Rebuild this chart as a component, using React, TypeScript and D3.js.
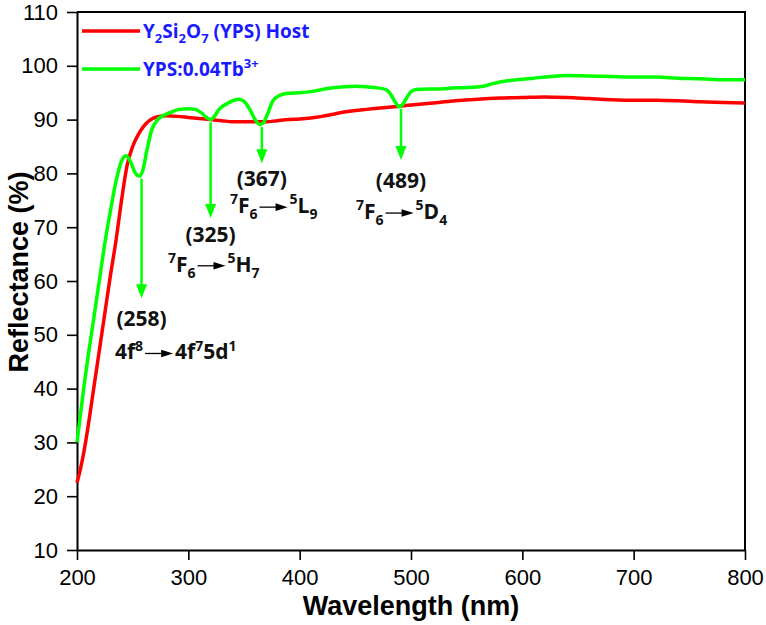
import React, { useEffect, useRef } from "react";
import * as d3 from "d3";

const W = 766;
const H = 625;
const margin = { left: 77, top: 12, right: 21, bottom: 75 };

// Y2Si2O7 (YPS) host
const hostWl = [200, 203, 206, 210, 215, 220, 225, 230, 235, 240, 245, 250, 255, 260, 265, 270, 280, 290, 300, 310, 320, 330, 340, 350, 360, 370, 380, 390, 400, 410, 420, 430, 440, 450, 460, 470, 480, 490, 500, 510, 520, 530, 540, 560, 580, 600, 620, 640, 660, 680, 700, 720, 740, 760, 780, 800];
const hostR = [22.5, 25, 28, 33, 40, 47, 54, 61, 67.5, 75, 81.5, 85, 87.2, 88.8, 89.8, 90.4, 90.7, 90.6, 90.4, 90.2, 90, 89.8, 89.6, 89.6, 89.6, 89.6, 89.8, 90, 90.1, 90.3, 90.6, 91.0, 91.4, 91.7, 91.9, 92.1, 92.3, 92.5, 92.7, 92.9, 93.1, 93.3, 93.5, 93.8, 94, 94.1, 94.2, 94.1, 93.9, 93.7, 93.6, 93.6, 93.5, 93.3, 93.2, 93.1];

// YPS:0.04Tb3+
const dopedWl = [200, 203, 206, 210, 215, 220, 225, 230, 235, 240, 244, 248, 252, 256, 259, 263, 267, 272, 278, 285, 292, 300, 306, 312, 317, 320, 323, 328, 335, 341, 346, 350, 355, 360, 364, 367, 371, 376, 382, 390, 400, 410, 420, 430, 440, 450, 460, 470, 477, 482, 486, 489, 492, 496, 500, 505, 515, 526, 540, 555, 565, 572, 580, 590, 600, 610, 625, 640, 660, 680, 700, 720, 740, 760, 780, 800];
const dopedR = [30, 35, 40, 46, 53, 60, 67, 73, 78.5, 82.3, 83.3, 82.2, 80.2, 79.5, 80.5, 84.5, 88, 89.9, 90.8, 91.4, 91.9, 92, 91.9, 91.2, 90.3, 90, 90.5, 92, 93, 93.6, 93.8, 93.4, 92, 90, 89.1, 89.3, 91, 93.5, 94.5, 94.9, 95, 95.2, 95.6, 95.9, 96.1, 96.2, 96.1, 95.9, 95.6, 94.6, 93.2, 92.4, 92.7, 94, 95.2, 95.6, 95.7, 95.7, 95.9, 96, 96.2, 96.6, 97, 97.3, 97.5, 97.7, 98, 98.2, 98.1, 98, 97.9, 97.9, 97.7, 97.6, 97.4, 97.4];

const xTicks = [200, 300, 400, 500, 600, 700, 800];
const yTicks = [10, 20, 30, 40, 50, 60, 70, 80, 90, 100, 110];

const seriesNames = ["Y2Si2O7 (YPS) Host", "YPS:0.04Tb3+"];
const seriesColors = ["#ff0000", "#00ff00"];

// annotations (wavelength of arrow, reflectance where arrow starts / ends)
const annWl = [258, 320, 366, 491];
const annFrom = [79.0, 89.5, 88.6, 92.0];
const annTo = [56.8, 71.7, 81.9, 82.5];
const annCode = ["(258)", "(325)", "(367)", "(489)"];
const annCodeY = [53.1, 68.7, 79.1, 78.7];
const annTransWl = [234.1, 281.7, 337.4, 450.6];
const annTransY = [46.9, 63.2, 74.1, 73.0];
type Seg = [string, "n" | "sup" | "sub"];
const annPre: Seg[][] = [
  [["4f", "n"], ["8", "sup"]],
  [["7", "sup"], ["F", "n"], ["6", "sub"]],
  [["7", "sup"], ["F", "n"], ["6", "sub"]],
  [["7", "sup"], ["F", "n"], ["6", "sub"]],
];
const annPost: Seg[][] = [
  [["4f", "n"], ["7", "sup"], ["5d", "n"], ["1", "sup"]],
  [["5", "sup"], ["H", "n"], ["7", "sub"]],
  [["5", "sup"], ["L", "n"], ["9", "sub"]],
  [["5", "sup"], ["D", "n"], ["4", "sub"]],
];

const TICK_FONT = "'Liberation Sans', Arial, sans-serif";
const ANN_FONT = "'Open Sans', 'Noto Sans', sans-serif";

function writeSegs(textSel: any, segs: Seg[], big: number, small: number) {
  let shift = 0;
  segs.forEach(([t, k]) => {
    const target = k === "sup" ? -big * 0.42 : k === "sub" ? big * 0.28 : 0;
    textSel
      .append("tspan")
      .attr("dy", target - shift)
      .attr("font-size", k === "n" ? big : small)
      .text(t);
    shift = target;
  });
}

export default function App() {
  const ref = useRef<SVGSVGElement>(null);
  useEffect(() => {
    document.body.style.margin = "0";
    const svg = d3.select(ref.current);
    svg.selectAll("*").remove();

    const x = d3.scaleLinear().domain([200, 800]).range([margin.left, W - margin.right]);
    const y = d3.scaleLinear().domain([10, 110]).range([H - margin.bottom, margin.top]);

    svg.append("rect").attr("width", W).attr("height", H).attr("fill", "#fff");

    // axes
    const gx = svg
      .append("g")
      .attr("transform", `translate(0,${H - margin.bottom})`)
      .call(d3.axisBottom(x).tickValues(xTicks).tickSize(10).tickSizeOuter(0).tickPadding(9).tickFormat(d3.format("d")));
    const gy = svg
      .append("g")
      .attr("transform", `translate(${margin.left},0)`)
      .call(d3.axisLeft(y).tickValues(yTicks).tickSize(10).tickSizeOuter(0).tickPadding(9).tickFormat(d3.format("d")));
    [gx, gy].forEach((g) => {
      g.selectAll("path").attr("stroke", "#000").attr("stroke-width", 2);
      g.selectAll("line").attr("stroke", "#000").attr("stroke-width", 1.6);
      g.selectAll("text").attr("font-family", TICK_FONT).attr("font-size", 22).attr("fill", "#000");
    });
    // top and right frame
    svg
      .append("path")
      .attr("d", `M${x(200)},${y(110)}H${x(800)}V${y(10)}`)
      .attr("fill", "none")
      .attr("stroke", "#000")
      .attr("stroke-width", 2);

    // axis titles
    svg
      .append("text")
      .attr("x", (x(200) + x(800)) / 2)
      .attr("y", 615)
      .attr("text-anchor", "middle")
      .attr("font-family", TICK_FONT)
      .attr("font-weight", "bold")
      .attr("font-size", 27)
      .text("Wavelength (nm)");
    svg
      .append("text")
      .attr("transform", `translate(28,272) rotate(-90)`)
      .attr("text-anchor", "middle")
      .attr("font-family", TICK_FONT)
      .attr("font-weight", "bold")
      .attr("font-size", 27)
      .text("Reflectance (%)");

    // curves
    const line = d3
      .line<[number, number]>()
      .x((d) => x(d[0]))
      .y((d) => y(d[1]))
      .curve(d3.curveMonotoneX);
    const series = [
      hostWl.map((w, i) => [w, hostR[i]] as [number, number]),
      dopedWl.map((w, i) => [w, dopedR[i]] as [number, number]),
    ];
    series.forEach((s, i) => {
      svg
        .append("path")
        .attr("d", line(s))
        .attr("fill", "none")
        .attr("stroke", seriesColors[i])
        .attr("stroke-width", 3.5)
        .attr("stroke-linejoin", "round");
    });

    // annotations
    annWl.forEach((w, i) => {
      const ax = x(w);
      const y0 = y(annFrom[i]);
      const y1 = y(annTo[i]);
      svg
        .append("line")
        .attr("x1", ax)
        .attr("x2", ax)
        .attr("y1", y0)
        .attr("y2", y1 - 12)
        .attr("stroke", seriesColors[1])
        .attr("stroke-width", 2.5);
      svg
        .append("path")
        .attr("d", `M${ax - 5.5},${y1 - 14}L${ax + 5.5},${y1 - 14}L${ax},${y1}Z`)
        .attr("fill", seriesColors[1]);
      svg
        .append("text")
        .attr("x", ax)
        .attr("y", y(annCodeY[i]) + 8)
        .attr("text-anchor", "middle")
        .attr("font-family", ANN_FONT)
        .attr("font-weight", "bold")
        .attr("font-size", 21)
        .attr("fill", "#111")
        .text(annCode[i]);

      const tx = x(annTransWl[i]);
      const ty = y(annTransY[i]) + 8;
      const pre = svg
        .append("text")
        .attr("x", tx)
        .attr("y", ty)
        .attr("font-family", ANN_FONT)
        .attr("font-weight", "bold")
        .attr("fill", "#111");
      writeSegs(pre, annPre[i], 21, 14);
      const pw = (pre.node() as SVGTextElement).getBBox().width;
      const a0 = tx + pw + 2;
      const a1 = a0 + 28;
      const ay = ty - 6;
      svg
        .append("line")
        .attr("x1", a0)
        .attr("x2", a1 - 10)
        .attr("y1", ay)
        .attr("y2", ay)
        .attr("stroke", "#000")
        .attr("stroke-width", 1.3);
      svg
        .append("path")
        .attr("d", `M${a1 - 12},${ay - 3.8}L${a1},${ay}L${a1 - 12},${ay + 3.8}Z`)
        .attr("fill", "#000");
      const post = svg
        .append("text")
        .attr("x", a1 + 2)
        .attr("y", ty)
        .attr("font-family", ANN_FONT)
        .attr("font-weight", "bold")
        .attr("fill", "#111");
      writeSegs(post, annPost[i], 21, 14);
    });

    // legend
    const legSegs: Seg[][] = [
      [["Y", "n"], ["2", "sub"], ["Si", "n"], ["2", "sub"], ["O", "n"], ["7", "sub"], [" (YPS) Host", "n"]],
      [["YPS:0.04Tb", "n"], ["3+", "sup"]],
    ];
    const legY = [31, 69];
    seriesNames.forEach((_, i) => {
      svg
        .append("line")
        .attr("x1", 82)
        .attr("x2", 140)
        .attr("y1", legY[i])
        .attr("y2", legY[i])
        .attr("stroke", seriesColors[i])
        .attr("stroke-width", 3.5);
      const t = svg
        .append("text")
        .attr("x", 143)
        .attr("y", legY[i] + 7)
        .attr("font-family", ANN_FONT)
        .attr("font-weight", "bold")
        .attr("fill", "#1a1aff");
      writeSegs(t, legSegs[i], 19, 13);
    });
  }, []);
  return <svg ref={ref} width={W} height={H} style={{ position: "absolute", left: 0, top: 0 }} />;
}
